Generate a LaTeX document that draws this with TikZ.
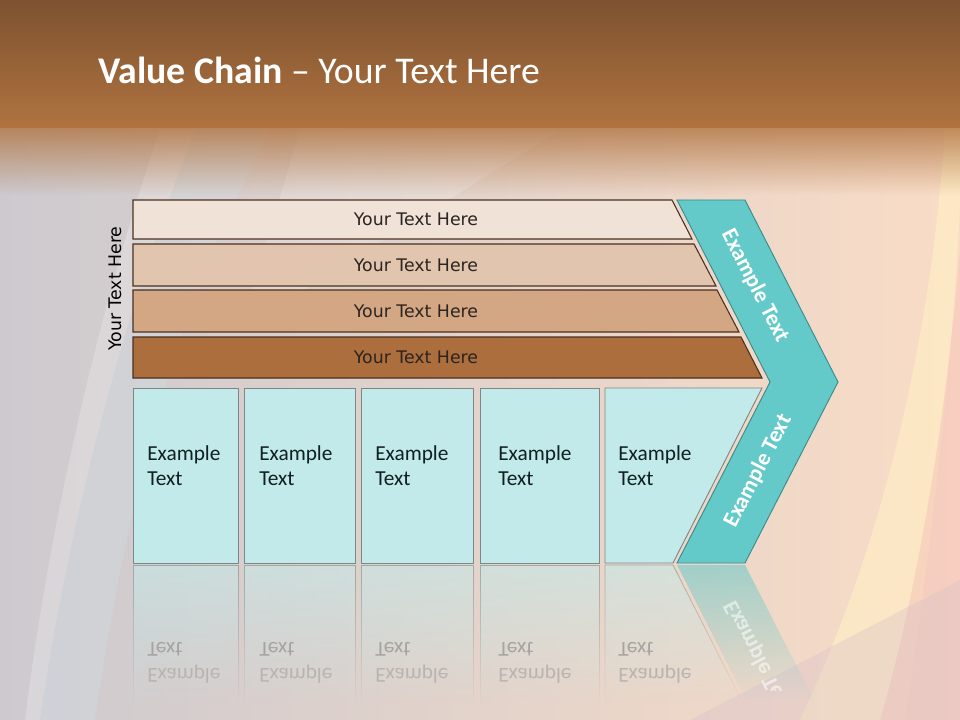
\documentclass[tikz,border=0pt]{standalone}
\usepackage{fontspec}
\setmainfont{Carlito}
\newfontfamily\dvs{DejaVu Sans}
\usetikzlibrary{fadings}

\definecolor{brTop}{HTML}{7D5230}
\definecolor{brBot}{HTML}{B07340}
\definecolor{bgL}{HTML}{CDCACF}
\definecolor{bgM}{HTML}{EEDFD4}
\definecolor{bgR}{HTML}{F9DCC6}
\definecolor{yel}{HTML}{FFF0C4}
\definecolor{pnk}{HTML}{F6C4BA}
\definecolor{lav}{HTML}{D8C0CC}
\definecolor{barA}{HTML}{F0E2D7}
\definecolor{barB}{HTML}{E2C5AE}
\definecolor{barC}{HTML}{D4A784}
\definecolor{barD}{HTML}{AC6E3D}
\definecolor{barEdge}{HTML}{4A3020}
\definecolor{barText}{HTML}{2B2420}
\definecolor{boxc}{HTML}{C3EAEA}
\definecolor{boxEdge}{HTML}{7F8685}
\definecolor{boxText}{HTML}{102020}
\definecolor{chevc}{HTML}{63C9C9}
\definecolor{chevEdge}{HTML}{3B8C8C}
\definecolor{reflA}{HTML}{B9B4B0}
\definecolor{reflB}{HTML}{A7A3A0}

\tikzfading[name=bandfade, top color=transparent!20, bottom color=transparent!100]
\tikzfading[name=reflfade, top color=transparent!45, bottom color=transparent!100]
\tikzfading[name=edgefade, top color=transparent!40, bottom color=transparent!100]

\begin{document}
\begin{tikzpicture}[x=0.75pt,y=-0.75pt,
  barshape/.style={draw=barEdge, line width=0.8pt},
  bartext/.style={font=\dvs\fontsize{13}{15}\selectfont, text=barText, inner sep=0pt},
  boxshape/.style={fill=boxc, draw=boxEdge, line width=0.7pt},
  boxtext/.style={anchor=base west, inner sep=0pt, text=boxText, font=\fontsize{16}{19.2}\selectfont},
  refltext/.style={anchor=base west, inner sep=0pt, yscale=-1, font=\fontsize{16}{19.2}\selectfont},
  reflfill/.style={fill=boxc, path fading=reflfade},
  refledge/.style={draw=boxEdge, line width=0.6pt, path fading=edgefade},
  chevtext/.style={text=white, font=\bfseries\fontsize{17}{20}\selectfont, inner sep=0pt}]
\useasboundingbox (0,0) rectangle (960,720);

% ---------- background ----------
\shade[left color=bgL, middle color=bgM, right color=bgR] (0,0) rectangle (960,720);
\fill[yel, opacity=.6] (945,130) .. controls (930,350) and (880,550) .. (800,720) -- (905,720) .. controls (935,520) and (955,330) .. (960,200) -- (960,130) -- cycle;
\fill[pnk, opacity=.55] (960,250) .. controls (945,430) and (915,600) .. (880,720) -- (960,720) -- cycle;
\fill[lav, opacity=.35] (960,580) -- (960,720) -- (690,720) -- cycle;
\fill[white, opacity=.22] (160,130) .. controls (115,260) and (55,480) .. (25,720) -- (40,720) .. controls (75,480) and (140,270) .. (195,130) -- cycle;
\fill[cyan!20!white, opacity=.18] (195,130) .. controls (140,270) and (75,480) .. (40,720) -- (95,720) .. controls (130,480) and (180,300) .. (270,130) -- cycle;
\fill[white, opacity=.18] (300,130) -- (560,130) -- (240,330) -- cycle;

% ---------- title band ----------
\shade[top color=brTop, bottom color=brBot] (0,0) rectangle (960,128);
\fill[brBot, path fading=bandfade] (0,127) rectangle (960,195);
\node[anchor=base west, inner sep=0pt, text=white, font=\fontsize{28.3}{34}\selectfont] (title) at (98,84) {\textbf{Value Chain} -- Your Text Here};

% ---------- side label ----------
\node[rotate=90, font=\dvs\fontsize{13}{15}\selectfont, text=black, inner sep=0pt] (side) at (115.5,288.5) {Your Text Here};

% ---------- bars ----------
\fill[barA] (133,200) -- (672,200) -- (692,239) -- (133,239) -- cycle;
\draw[barshape] (133,200) -- (672,200) -- (692,239) -- (133,239) -- cycle;
\node[bartext] (bar1) at (416,219.5) {Your Text Here};
\fill[barB] (133,244) -- (694,244) -- (716,286) -- (133,286) -- cycle;
\draw[barshape] (133,244) -- (694,244) -- (716,286) -- (133,286) -- cycle;
\node[bartext] (bar2) at (416,265.5) {Your Text Here};
\fill[barC] (133,290) -- (717,290) -- (739,332) -- (133,332) -- cycle;
\draw[barshape] (133,290) -- (717,290) -- (739,332) -- (133,332) -- cycle;
\node[bartext] (bar3) at (416,311.5) {Your Text Here};
\fill[barD] (133,337) -- (741,337) -- (762,378) -- (133,378) -- cycle;
\draw[barshape] (133,337) -- (741,337) -- (762,378) -- (133,378) -- cycle;
\node[bartext] (bar4) at (416,357) {Your Text Here};

% ---------- boxes ----------
\draw[boxshape] (133,388) rectangle (238,563);
\draw[boxshape] (244,388) rectangle (355,563);
\draw[boxshape] (361,388) rectangle (473,563);
\draw[boxshape] (480,388) rectangle (599,563);
\draw[boxshape] (605,388) -- (762,388) -- (673,563) -- (605,563) -- cycle;
\node[boxtext] (b1) at (147,460) {\vtop{\hbox{Example}\hbox{Text}}};
\node[boxtext] (b2) at (259,460) {\vtop{\hbox{Example}\hbox{Text}}};
\node[boxtext] (b3) at (375,460) {\vtop{\hbox{Example}\hbox{Text}}};
\node[boxtext] (b4) at (498,460) {\vtop{\hbox{Example}\hbox{Text}}};
\node[boxtext] (b5) at (618,460) {\vtop{\hbox{Example}\hbox{Text}}};

% ---------- chevron ----------
\draw[fill=chevc, draw=chevEdge, line width=0.7pt] (677,200) -- (745,200) -- (838,382) -- (745,563) -- (677,563) -- (770,382) -- cycle;
\node[chevtext, rotate=-62.9] (c1) at (755,286) {Example Text};
\node[chevtext, rotate=62.9] (c2) at (758,471) {Example Text};

% ---------- reflection ----------
\fill[reflfill] (133,565) rectangle (238,705);
\fill[reflfill] (244,565) rectangle (355,705);
\fill[reflfill] (361,565) rectangle (473,705);
\fill[reflfill] (480,565) rectangle (599,705);
\fill[reflfill] (605,565) -- (673,565) -- (744,705) -- (605,705) -- cycle;
\draw[refledge] (133,705) -- (133,565) -- (238,565) -- (238,705);
\draw[refledge] (244,705) -- (244,565) -- (355,565) -- (355,705);
\draw[refledge] (361,705) -- (361,565) -- (473,565) -- (473,705);
\draw[refledge] (480,705) -- (480,565) -- (599,565) -- (599,705);
\draw[refledge] (605,705) -- (605,565) -- (673,565) -- (744,705);
\fill[chevc, path fading=reflfade] (677,565) -- (745,565) -- (815,702) -- (747,702) -- cycle;
\node[refltext] (r1) at (147,668) {\vtop{\hbox{\color{reflA}Example}\hbox{\color{reflB}Text}}};
\node[refltext] (r2) at (259,668) {\vtop{\hbox{\color{reflA}Example}\hbox{\color{reflB}Text}}};
\node[refltext] (r3) at (375,668) {\vtop{\hbox{\color{reflA}Example}\hbox{\color{reflB}Text}}};
\node[refltext] (r4) at (498,668) {\vtop{\hbox{\color{reflA}Example}\hbox{\color{reflB}Text}}};
\node[refltext] (r5) at (618,668) {\vtop{\hbox{\color{reflA}Example}\hbox{\color{reflB}Text}}};
\begin{scope}
  \clip (660,565) rectangle (860,690);
  \node[chevtext, rotate=-62.9, yscale=-1, opacity=.55] (rc) at (758,657) {Example Text};
\end{scope}
\end{tikzpicture}
\end{document}
